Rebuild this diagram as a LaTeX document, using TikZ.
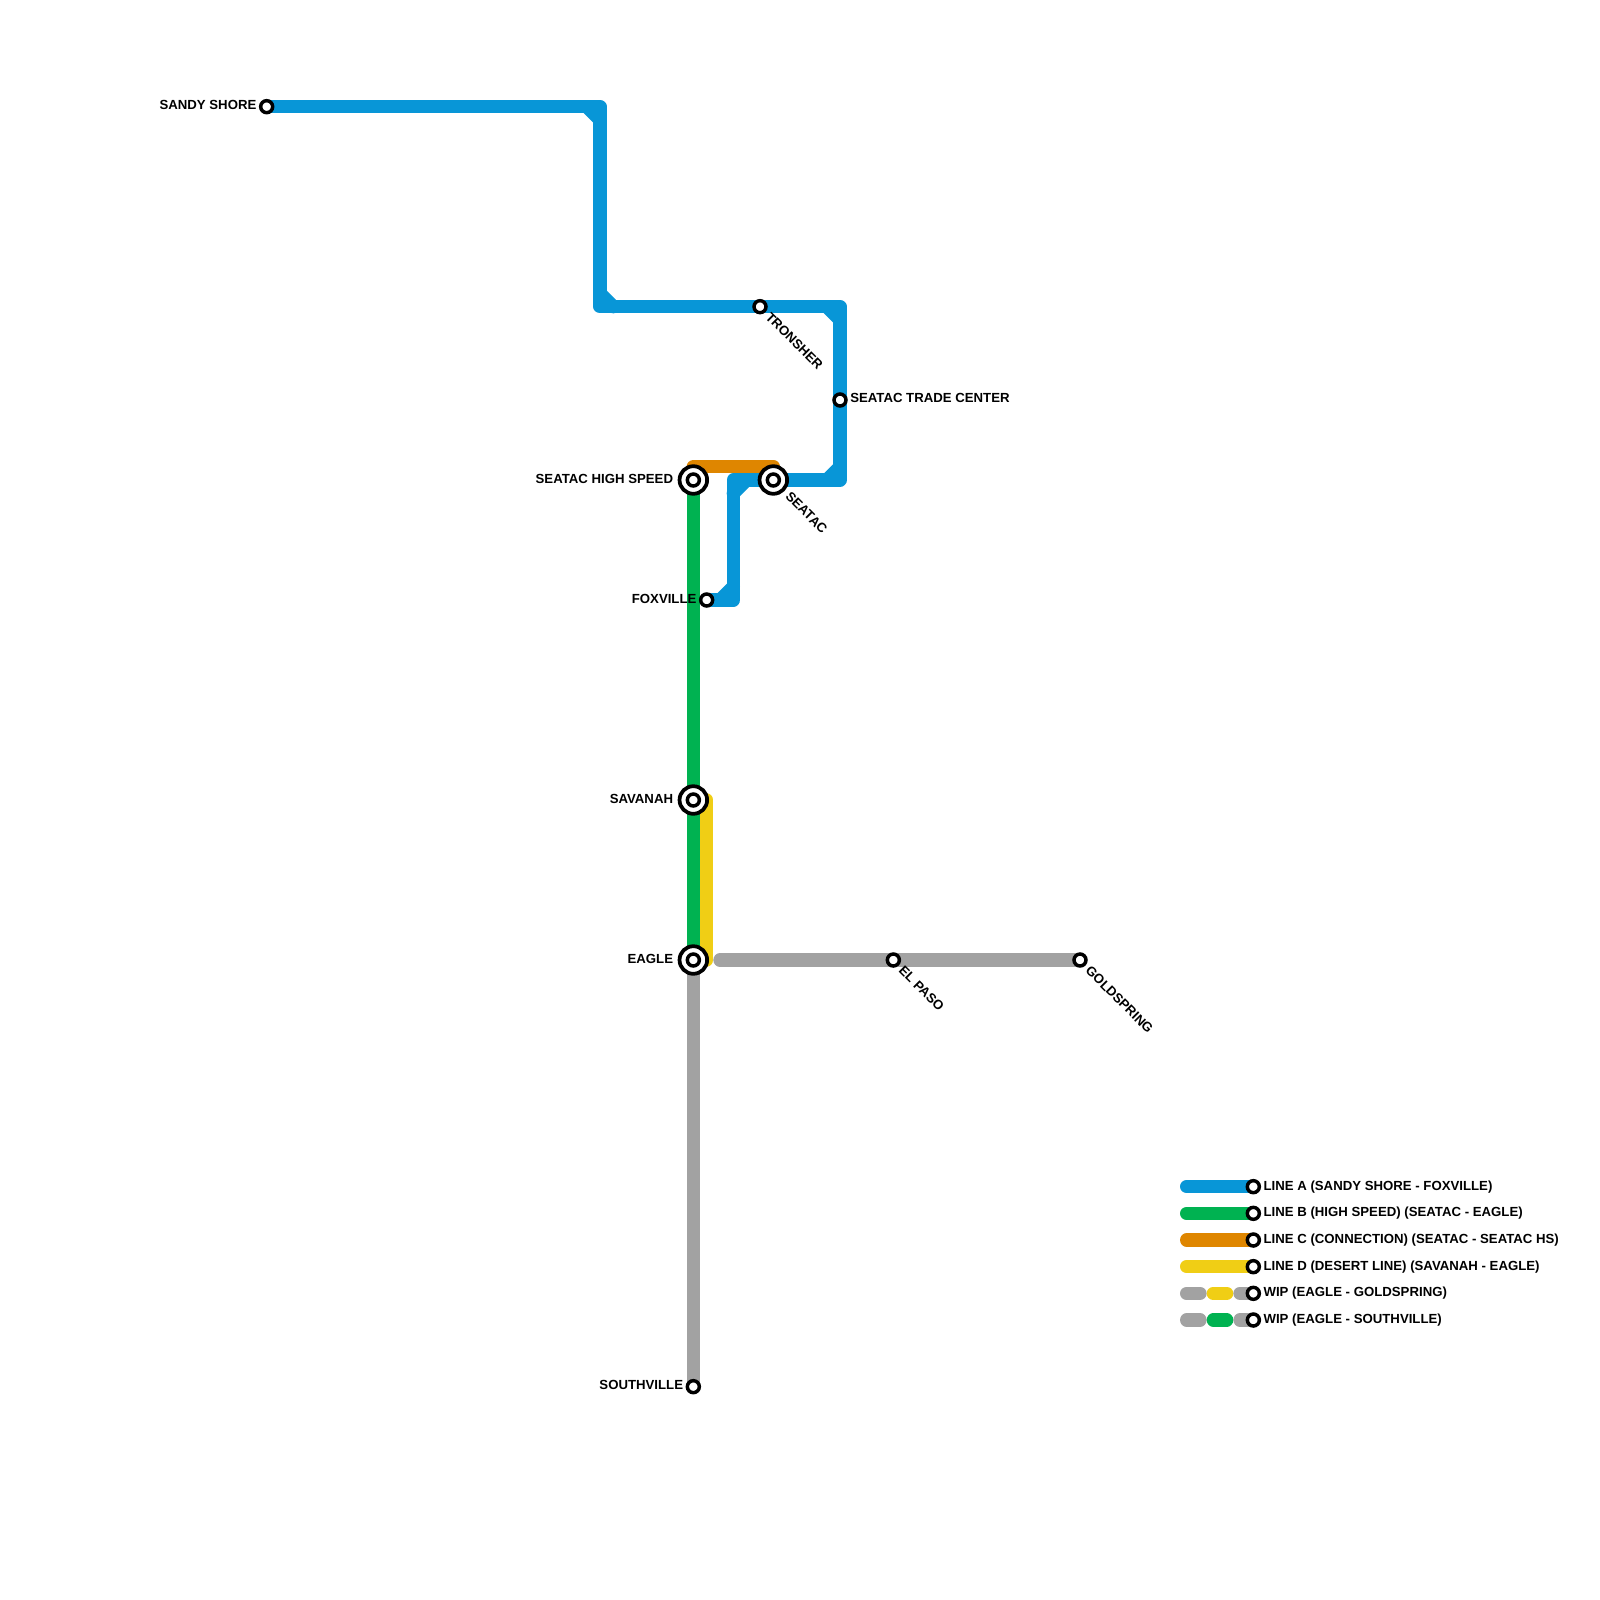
\documentclass[tikz,border=0pt]{standalone}
\usepackage{fontspec}
\setmainfont{Liberation Sans}
\usetikzlibrary{backgrounds}
\definecolor{lineA}{HTML}{0896D7}
\definecolor{lineB}{HTML}{00B251}
\definecolor{lineC}{HTML}{DF8600}
\definecolor{lineD}{HTML}{F0CE15}
\definecolor{wip}{HTML}{A2A2A2}
\tikzset{
  track/.style={line width=10pt,line cap=round,line join=round},
  stop/.style={circle,draw=black,fill=white,line width=2.6pt,minimum size=9pt,inner sep=0pt},
  hub/.style={circle,draw=black,fill=white,line width=2.8pt,minimum size=20.7pt,inner sep=0pt},
  lab/.style={inner sep=0pt,text height=7pt,text depth=0pt,font=\bfseries\fontsize{9.9}{10}\selectfont,text=black},
  labl/.style={lab,anchor=east},
  labr/.style={lab,anchor=west},
  labd/.style={lab,anchor=west,rotate=-45},
}
\begin{document}
\begin{tikzpicture}[x=10pt,y=-10pt]
\useasboundingbox (0,0) rectangle (120,120);
% stations
\node[stop] (sandy) at (20,8) {};
\node[stop] (tronsher) at (57,23) {};
\node[stop] (trade) at (63,30) {};
\node[hub] (seatacO) at (58,36) {};
\node[stop] (seatac) at (58,36) {};
\node[hub] (hsO) at (52,36) {};
\node[stop] (hs) at (52,36) {};
\node[stop] (foxville) at (53,45) {};
\node[hub] (savanahO) at (52,60) {};
\node[stop] (savanah) at (52,60) {};
\node[hub] (eagleO) at (52,72) {};
\node[stop] (eagle) at (52,72) {};
\node[stop] (southville) at (52,104) {};
\node[stop] (elpaso) at (67,72) {};
\node[stop] (goldspring) at (81,72) {};
\node[stop] (legA) at (94,89) {};
\node[stop] (legB) at (94,91) {};
\node[stop] (legC) at (94,93) {};
\node[stop] (legD) at (94,95) {};
\node[stop] (legE) at (94,97) {};
\node[stop] (legF) at (94,99) {};
% bends
\coordinate (a1) at (45,8);
\coordinate (a1i) at (44,8);
\coordinate (a1j) at (45,9);
\coordinate (a2) at (45,23);
\coordinate (a2i) at (45,22);
\coordinate (a2j) at (46,23);
\coordinate (a3) at (63,23);
\coordinate (a3i) at (62,23);
\coordinate (a3j) at (63,24);
\coordinate (a4) at (63,36);
\coordinate (a4i) at (63,35);
\coordinate (a4j) at (62,36);
\coordinate (a5) at (55,36);
\coordinate (a5i) at (56,36);
\coordinate (a5j) at (55,37);
\coordinate (a6) at (55,45);
\coordinate (a6i) at (55,44);
\coordinate (a6j) at (54,45);
\coordinate (c1) at (52,35);
\coordinate (c2) at (58,35);
\coordinate (d1) at (53,60);
\coordinate (d2) at (53,72);
\coordinate (w1) at (54,72);
\coordinate (lA) at (89,89);
\coordinate (lB) at (89,91);
\coordinate (lC) at (89,93);
\coordinate (lD) at (89,95);
\coordinate (lE1) at (89,97);
\coordinate (lE2) at (90,97);
\coordinate (lE3) at (91,97);
\coordinate (lE4) at (92,97);
\coordinate (lE5) at (93,97);
\coordinate (lF1) at (89,99);
\coordinate (lF2) at (90,99);
\coordinate (lF3) at (91,99);
\coordinate (lF4) at (92,99);
\coordinate (lF5) at (93,99);
\begin{scope}[on background layer]
  \fill[white] (0,0) rectangle (120,120);
  \draw[track,wip] (eagle.center) -- (southville.center);
  \draw[track,wip] (w1) -- (elpaso.center) -- (goldspring.center);
  \draw[track,lineD] (d1) -- (d2);
  \draw[track,lineB] (hs.center) -- (savanah.center) -- (eagle.center);
  \draw[track,lineC] (c1) -- (c2);
  \draw[track,lineA] (sandy.center) -- (a1) -- (a2) -- (tronsher.center) -- (a3) -- (trade.center) -- (a4) -- (seatac.center) -- (a5) -- (a6) -- (foxville.center);
  \draw[track,lineA] (a1i) -- (a1j);
  \draw[track,lineA] (a2i) -- (a2j);
  \draw[track,lineA] (a3i) -- (a3j);
  \draw[track,lineA] (a4i) -- (a4j);
  \draw[track,lineA] (a5i) -- (a5j);
  \draw[track,lineA] (a6i) -- (a6j);
  \draw[track,lineA] (lA) -- (legA.center);
  \draw[track,lineB] (lB) -- (legB.center);
  \draw[track,lineC] (lC) -- (legC.center);
  \draw[track,lineD] (lD) -- (legD.center);
  \draw[track,wip] (lE1) -- (lE2);
  \draw[track,lineD] (lE3) -- (lE4);
  \draw[track,wip] (lE5) -- (legE.center);
  \draw[track,wip] (lF1) -- (lF2);
  \draw[track,lineB] (lF3) -- (lF4);
  \draw[track,wip] (lF5) -- (legF.center);
\end{scope}
% labels
\node[labl] (tsandy) at ([shift={(-7.5pt,1.6pt)}]sandy.center) {SANDY SHORE};
\node[labl] (ths) at ([shift={(-15pt,1pt)}]hs.center) {SEATAC HIGH SPEED};
\node[labl] (tfox) at ([shift={(-7.5pt,1pt)}]foxville.center) {FOXVILLE};
\node[labl] (tsav) at ([shift={(-15pt,1pt)}]savanah.center) {SAVANAH};
\node[labl] (teagle) at ([shift={(-15pt,1pt)}]eagle.center) {EAGLE};
\node[labl] (tsouth) at ([shift={(-7.5pt,1.6pt)}]southville.center) {SOUTHVILLE};
\node[labr] (ttrade) at ([shift={(7.5pt,1.6pt)}]trade.center) {SEATAC TRADE CENTER};
\node[labd] (ttron) at ([shift={(6pt,-6pt)}]tronsher.center) {TRONSHER};
\node[labd] (tseat) at ([shift={(11pt,-10.5pt)}]seatac.center) {SEATAC};
\node[labd] (tel) at ([shift={(6pt,-6pt)}]elpaso.center) {EL PASO};
\node[labd] (tgold) at ([shift={(6pt,-6pt)}]goldspring.center) {GOLDSPRING};
\node[labr] (tlA) at ([shift={(7.5pt,1pt)}]legA.center) {LINE A (SANDY SHORE - FOXVILLE)};
\node[labr] (tlB) at ([shift={(7.5pt,1pt)}]legB.center) {LINE B (HIGH SPEED) (SEATAC - EAGLE)};
\node[labr] (tlC) at ([shift={(7.5pt,1pt)}]legC.center) {LINE C (CONNECTION) (SEATAC - SEATAC HS)};
\node[labr] (tlD) at ([shift={(7.5pt,1pt)}]legD.center) {LINE D (DESERT LINE) (SAVANAH - EAGLE)};
\node[labr] (tlE) at ([shift={(7.5pt,1pt)}]legE.center) {WIP (EAGLE - GOLDSPRING)};
\node[labr] (tlF) at ([shift={(7.5pt,1pt)}]legF.center) {WIP (EAGLE - SOUTHVILLE)};
\end{tikzpicture}
\end{document}
